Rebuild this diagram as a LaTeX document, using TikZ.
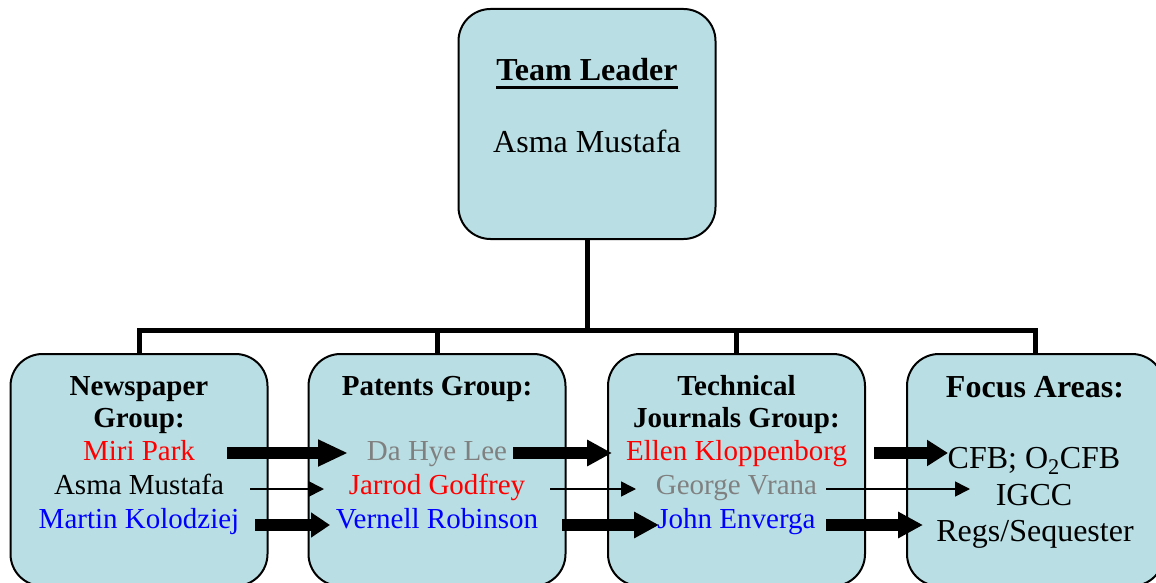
\documentclass[tikz,border=0pt]{standalone}
\usepackage{fontspec}
\setmainfont{Liberation Serif}
\usetikzlibrary{arrows.meta}
\definecolor{boxfill}{RGB}{185,223,228}
\definecolor{nmred}{RGB}{255,0,0}
\definecolor{nmgray}{RGB}{128,128,128}
\definecolor{nmblue}{RGB}{0,0,255}
\tikzset{
  orgbox/.style={draw=black, line width=2pt, fill=boxfill, rounded corners=32pt,
    minimum width=257pt, inner sep=0pt},
  topbox/.style={orgbox, minimum height=230pt},
  grpbox/.style={orgbox, minimum height=232pt},
  conn/.style={line width=5pt, line join=miter},
  bigtxt/.style={inner sep=0pt, anchor=base, font=\fontsize{32}{38}\selectfont},
  bighead/.style={bigtxt, font=\fontsize{32}{38}\selectfont\bfseries},
  txt/.style={inner sep=0pt, anchor=base, font=\fontsize{29}{34}\selectfont},
  head/.style={txt, font=\fontsize{29}{34}\selectfont\bfseries},
  thickarrow/.style={line width=12pt, -{Triangle[length=25pt,width=25pt]}},
  thinarrow/.style={line width=1.6pt, -{Triangle[length=15pt,width=15pt]}}
}
\begin{document}
\begin{tikzpicture}[x=1pt,y=-1pt]
\useasboundingbox (0,0) rectangle (1156,583);
\clip (0,0) rectangle (1156,583);
% boxes
\node[topbox] (top) at (587,124) {};
\node[grpbox] (b1) at (139,470) {};
\node[grpbox] (b2) at (437,470) {};
\node[grpbox] (b3) at (736.5,470) {};
\node[grpbox] (b4) at (1035.5,470) {};
% connectors
\coordinate (bar) at (587,330.5);
\draw[conn] (top.south) -- (bar);
\draw[conn] (b1.north) -- (b1.north |- bar) -- (b4.north |- bar) -- (b4.north);
\draw[conn] (b2.north) -- (b2.north |- bar);
\draw[conn] (b3.north) -- (b3.north |- bar);
% top box text
\node[bighead] (tl) at (587,81) {Team Leader};
\draw[line width=3pt] ([yshift=-6.5pt]tl.base west) -- ([yshift=-6.5pt]tl.base east);
\node[bigtxt] (tlname) at (587,152) {Asma Mustafa};
% box 1
\node[head] (h1a) at (139,395) {Newspaper};
\node[head] (h1b) at (139,427) {Group:};
\node[txt, text=nmred] (miri) at (139,460) {Miri Park};
\node[txt] (asma) at (139,494) {Asma Mustafa};
\node[txt, text=nmblue] (martin) at (139,528) {Martin Kolodziej};
% box 2
\node[head] (h2) at (437,395) {Patents Group:};
\node[txt, text=nmgray] (dahye) at (437,460) {Da Hye Lee};
\node[txt, text=nmred] (jarrod) at (437,494) {Jarrod Godfrey};
\node[txt, text=nmblue] (vernell) at (437,528) {Vernell Robinson};
% box 3
\node[head] (h3a) at (736.5,395) {Technical};
\node[head] (h3b) at (736.5,427) {Journals Group:};
\node[txt, text=nmred] (ellen) at (736.5,460) {Ellen Kloppenborg};
\node[txt, text=nmgray] (george) at (736.5,494) {George Vrana};
\node[txt, text=nmblue] (john) at (736.5,528) {John Enverga};
% box 4
\node[bighead] (h4) at (1035,397) {Focus Areas:};
\node[bigtxt] (cfb) at (1034,468) {CFB; O\textsubscript{2}CFB};
\node[bigtxt] (igcc) at (1034,505) {IGCC};
\node[bigtxt] (regs) at (1035,541) {Regs/Sequester};
% arrow end points
\coordinate (a1s) at (227,453);  \coordinate (a1e) at (348,453);
\coordinate (a2s) at (513,453);  \coordinate (a2e) at (612,453);
\coordinate (a3s) at (874,453);  \coordinate (a3e) at (948,453);
\coordinate (t1s) at (250,489);  \coordinate (t1e) at (324,489);
\coordinate (t2s) at (550,489);  \coordinate (t2e) at (636,489);
\coordinate (t3s) at (826,489);  \coordinate (t3e) at (970,489);
\coordinate (c1s) at (255,525);  \coordinate (c1e) at (330,525);
\coordinate (c2s) at (562,525);  \coordinate (c2e) at (659,525);
\coordinate (c3s) at (826,525);  \coordinate (c3e) at (923,525);
% arrows
\draw[thickarrow, -{Triangle[length=30pt,width=25pt]}] (a1s) -- (a1e);
\draw[thickarrow] (a2s) -- (a2e);
\draw[thickarrow, -{Triangle[length=21pt,width=25pt]}] (a3s) -- (a3e);
\draw[thinarrow] (t1s) -- (t1e);
\draw[thinarrow] (t2s) -- (t2e);
\draw[thinarrow] (t3s) -- (t3e);
\draw[thickarrow, -{Triangle[length=19pt,width=24pt]}] (c1s) -- (c1e);
\draw[thickarrow] (c2s) -- (c2e);
\draw[thickarrow] (c3s) -- (c3e);
\end{tikzpicture}
\end{document}
